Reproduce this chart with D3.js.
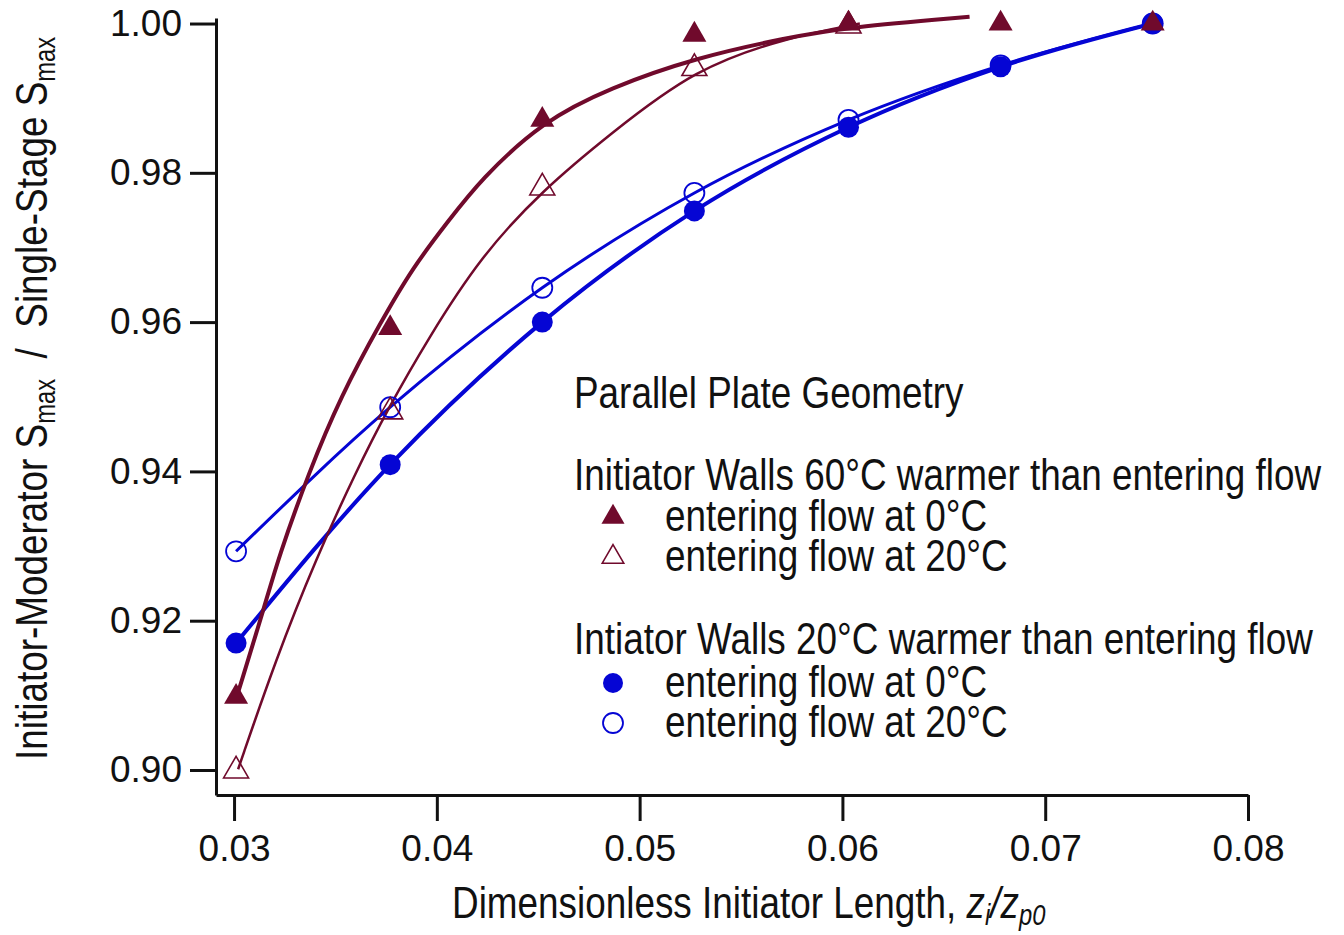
<!DOCTYPE html>
<html>
<head>
<meta charset="utf-8">
<script src="https://cdn.jsdelivr.net/npm/d3@7"></script>
<style>
  html, body { margin: 0; padding: 0; background: #fff; }
  svg { display: block; }
  text { font-family: "Liberation Sans", Arial, sans-serif; }
</style>
</head>
<body>
<svg id="chart" width="1344" height="935"></svg>
<script>
// Dimensionless initiator length z_i / z_p0 at which each case was run
const lengths = [0.0301, 0.0377, 0.0452, 0.0527, 0.0603, 0.0678, 0.0753];

// Initiator walls 60°C warmer than entering flow
const hot0 = [0.9098, 0.9592, 0.9871, 0.9985, 1.000, 1.000, 1.000];   // entering flow at 0°C
const hot20 = [0.8999, 0.948, 0.978, 0.994, 0.9997];                   // entering flow at 20°C

// Initiator walls 20°C warmer than entering flow
const warm0 = [0.917, 0.9409, 0.960, 0.9749, 0.9861, 0.9942, 1.000];  // entering flow at 0°C
const warm20 = [0.9293, 0.9486, 0.9646, 0.9773, 0.9871, 0.9944, 1.000]; // entering flow at 20°C

// Fitted trend curves for the 60°C cases
const hot0FitX = [0.0302, 0.03157, 0.03217, 0.03369, 0.03527, 0.03723, 0.03886, 0.04053, 0.04216, 0.04521, 0.04855, 0.05274, 0.05726, 0.06027, 0.06627];
const hot0FitY = [0.9104, 0.9225, 0.9283, 0.9399, 0.9501, 0.9600, 0.9675, 0.9734, 0.9791, 0.9869, 0.9914, 0.9954, 0.9981, 0.9995, 1.0009];
const hot20FitX = [0.0302, 0.03207, 0.03404, 0.0360, 0.03763, 0.03955, 0.04216, 0.04526, 0.04855, 0.05274, 0.05726, 0.06086];
const hot20FitY = [0.9001, 0.9149, 0.9283, 0.9399, 0.9486, 0.9577, 0.9688, 0.9778, 0.9852, 0.9940, 0.9981, 1.0000];

// Axis ticks
const xTicks = [0.03, 0.04, 0.05, 0.06, 0.07, 0.08];
const yTicks = [0.90, 0.92, 0.94, 0.96, 0.98, 1.00];

const MAROON = "#700a2c";
const BLUE = "#0505d4";
const INK = "#111";
const NARROW = 0.82;   // horizontal squeeze for the condensed title and legend lettering

const svg = d3.select("#chart");

const x = d3.scaleLinear().domain([0.02911, 0.08]).range([216, 1248]);
const y = d3.scaleLinear().domain([0.89665, 1.00074]).range([795, 18]);

// Axes
const xAxis = d3.axisBottom(x).tickValues(xTicks).tickFormat(d3.format(".2f"))
  .tickSize(26).tickSizeOuter(0).tickPadding(14);
const yAxis = d3.axisLeft(y).tickValues(yTicks).tickFormat(d3.format(".2f"))
  .tickSize(26).tickSizeOuter(0).tickPadding(8);

const gx = svg.append("g").attr("transform", "translate(0,795)").call(xAxis);
const gy = svg.append("g").attr("transform", "translate(216,0)").call(yAxis);

[gx, gy].forEach(g => {
  g.select(".domain").attr("stroke", INK).attr("stroke-width", 3);
  g.selectAll(".tick line").attr("stroke", INK).attr("stroke-width", 3);
  g.selectAll(".tick text").attr("fill", INK).attr("font-size", 37)
    .attr("font-family", "'Liberation Sans', Arial, sans-serif");
});
gx.selectAll(".tick text").attr("dy", "0.71em");

// Curves: data points joined smoothly for the 20°C cases, fitted trends for the 60°C cases
const lineThrough = d3.line().x(d => x(d[0])).y(d => y(d[1])).curve(d3.curveMonotoneX);
const lineFit = d3.line().x(d => x(d[0])).y(d => y(d[1])).curve(d3.curveBasis);
const plot = svg.append("g");

plot.append("path").datum(lengths.map((v, i) => [v, warm20[i]]))
  .attr("d", lineThrough).attr("fill", "none").attr("stroke", BLUE).attr("stroke-width", 3);
plot.append("path").datum(lengths.map((v, i) => [v, warm0[i]]))
  .attr("d", lineThrough).attr("fill", "none").attr("stroke", BLUE).attr("stroke-width", 4);

plot.append("path").datum(hot20FitX.map((v, i) => [v, hot20FitY[i]]))
  .attr("d", lineFit).attr("fill", "none").attr("stroke", MAROON).attr("stroke-width", 2.5);
plot.append("path").datum(hot0FitX.map((v, i) => [v, hot0FitY[i]]))
  .attr("d", lineFit).attr("fill", "none").attr("stroke", MAROON).attr("stroke-width", 4);

// Markers
const tri = d3.symbol().type(d3.symbolTriangle);

plot.selectAll(".m-warm20").data(warm20).join("circle")
  .attr("cx", (d, i) => x(lengths[i])).attr("cy", d => y(d)).attr("r", 10)
  .attr("fill", "none").attr("stroke", BLUE).attr("stroke-width", 1.8);
plot.selectAll(".m-warm0").data(warm0).join("circle")
  .attr("cx", (d, i) => x(lengths[i])).attr("cy", d => y(d)).attr("r", 10.5)
  .attr("fill", BLUE);
plot.selectAll(".m-hot20").data(hot20).join("path")
  .attr("d", tri.size(270)())
  .attr("transform", (d, i) => `translate(${x(lengths[i])},${y(d)})`)
  .attr("fill", "none").attr("stroke", MAROON).attr("stroke-width", 1.6);
plot.selectAll(".m-hot0").data(hot0).join("path")
  .attr("d", tri.size(250)())
  .attr("transform", (d, i) => `translate(${x(lengths[i])},${y(d)})`)
  .attr("fill", MAROON);

// Axis titles (condensed lettering)
const yTitle = svg.append("text")
  .attr("transform", `translate(47,760) rotate(-90) scale(${NARROW},1)`)
  .attr("font-size", 45).attr("fill", INK).attr("xml:space", "preserve");
yTitle.append("tspan").text("Initiator-Moderator S");
yTitle.append("tspan").attr("font-size", 29).attr("dy", 8).text("max");
yTitle.append("tspan").attr("dy", -8).text("  /  ");
yTitle.append("tspan").text("Single-Stage S");
yTitle.append("tspan").attr("font-size", 29).attr("dy", 8).text("max");

const xTitle = svg.append("text")
  .attr("transform", `translate(452,918) scale(${NARROW},1)`)
  .attr("font-size", 45).attr("fill", INK);
xTitle.append("tspan").text("Dimensionless Initiator Length, ");
xTitle.append("tspan").attr("font-style", "italic").text("z");
xTitle.append("tspan").attr("font-style", "italic").attr("font-size", 29).attr("dy", 7).text("i");
xTitle.append("tspan").attr("font-style", "italic").attr("dy", -7).text("/z");
xTitle.append("tspan").attr("font-style", "italic").attr("font-size", 29).attr("dy", 7).text("p0");

// Legend
const legendHeads = [
  { text: "Parallel Plate Geometry", y: 408 },
  { text: "Initiator Walls 60°C warmer than entering flow", y: 490 },
  { text: "Intiator Walls 20°C warmer than entering flow", y: 654 }
];
const legendItems = [
  { text: "entering flow at 0°C", y: 531, kind: "triFill" },
  { text: "entering flow at 20°C", y: 571, kind: "triOpen" },
  { text: "entering flow at 0°C", y: 697, kind: "dotFill" },
  { text: "entering flow at 20°C", y: 737, kind: "dotOpen" }
];
const legend = svg.append("g");
legend.selectAll(".head").data(legendHeads).join("text")
  .attr("transform", d => `translate(574,${d.y}) scale(${NARROW},1)`)
  .attr("font-size", 45).attr("fill", INK).text(d => d.text);
legend.selectAll(".item").data(legendItems).join("text")
  .attr("transform", d => `translate(665,${d.y}) scale(${NARROW},1)`)
  .attr("font-size", 45).attr("fill", INK).text(d => d.text);

legendItems.forEach(d => {
  const cy = d.y - 14;
  if (d.kind === "triFill") {
    legend.append("path").attr("d", tri.size(230)()).attr("transform", `translate(613,${cy})`).attr("fill", MAROON);
  } else if (d.kind === "triOpen") {
    legend.append("path").attr("d", tri.size(200)()).attr("transform", `translate(613,${cy})`)
      .attr("fill", "none").attr("stroke", MAROON).attr("stroke-width", 1.6);
  } else if (d.kind === "dotFill") {
    legend.append("circle").attr("cx", 613).attr("cy", cy).attr("r", 10).attr("fill", BLUE);
  } else {
    legend.append("circle").attr("cx", 613).attr("cy", cy).attr("r", 10)
      .attr("fill", "none").attr("stroke", BLUE).attr("stroke-width", 1.8);
  }
});
</script>
</body>
</html>
